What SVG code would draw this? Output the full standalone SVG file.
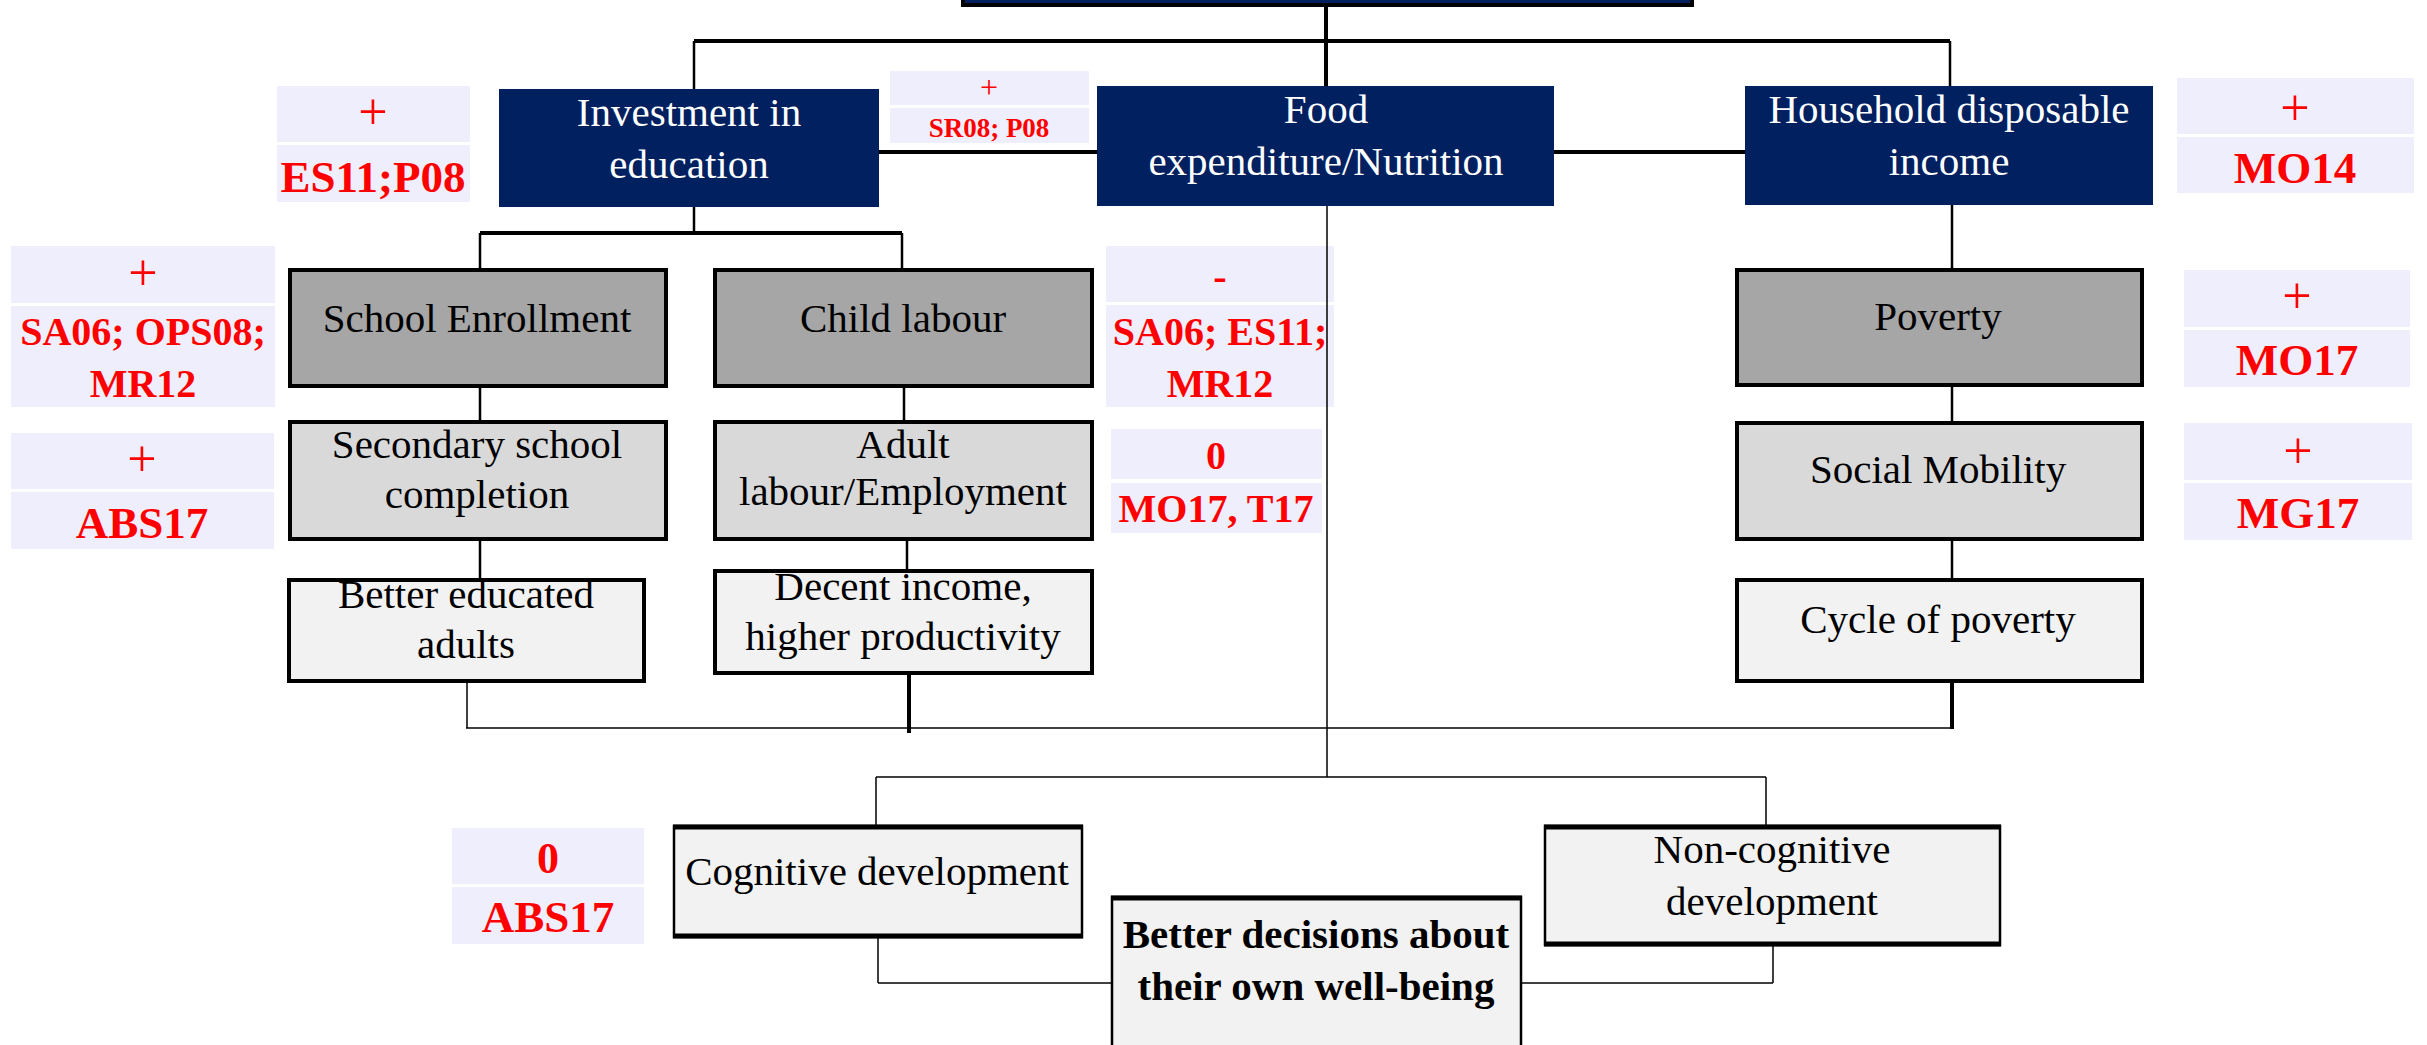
<svg xmlns="http://www.w3.org/2000/svg" width="2427" height="1045" viewBox="0 0 2427 1045">
  <style>
    .navy{fill:#002060}
    .dark{fill:#A6A6A6;stroke:#000;stroke-width:4}
    .mid{fill:#D9D9D9;stroke:#000;stroke-width:4}
    .light{fill:#F2F2F2;stroke:#000;stroke-width:4}
    .soft{fill:#F2F2F2;stroke:#000;stroke-width:2.5}
    .edge{stroke:#000;stroke-width:5;fill:none}
    .cell{fill:#EEEEFC}
    text{font-family:"Liberation Serif","Times New Roman",serif;text-anchor:middle}
    .w{fill:#fff;font-size:41px}
    .k{fill:#000;font-size:41px}
    .kb{fill:#000;font-size:41px;font-weight:bold}
    .sign{fill:#f00;font-size:52px}
    .ref{fill:#f00;font-weight:bold;font-size:40px}
    .refl{fill:#f00;font-weight:bold;font-size:45px}
    .c1{stroke:#000;stroke-width:1.5;fill:none}
    .c2{stroke:#000;stroke-width:2.5;fill:none}
    .c3{stroke:#000;stroke-width:4;fill:none}
  </style>

  <rect width="2427" height="1045" fill="#fff"/>

  <!-- connectors -->
  <g id="connectors">
    <line class="c3" x1="1326" y1="6" x2="1326" y2="86"/>
    <line class="c3" x1="694" y1="41" x2="1950" y2="41"/>
    <line class="c2" x1="694" y1="41" x2="694" y2="89"/>
    <line class="c2" x1="1950" y1="41" x2="1950" y2="86"/>
    <line class="c3" x1="879" y1="152" x2="1097" y2="152"/>
    <line class="c3" x1="1554" y1="152" x2="1745" y2="152"/>
    <!-- education branch -->
    <line class="c2" x1="694" y1="207" x2="694" y2="233"/>
    <line class="c3" x1="480" y1="233" x2="902" y2="233"/>
    <line class="c2" x1="480" y1="233" x2="480" y2="268"/>
    <line class="c2" x1="902" y1="233" x2="902" y2="268"/>
    <line class="c2" x1="480" y1="387" x2="480" y2="420"/>
    <line class="c2" x1="904" y1="387" x2="904" y2="420"/>
    <line class="c2" x1="480" y1="540" x2="480" y2="578"/>
    <line class="c2" x1="907" y1="540" x2="907" y2="569"/>
    <line class="c1" x1="467" y1="682" x2="467" y2="728"/>
    <line class="c3" x1="909" y1="674" x2="909" y2="733"/>
    <!-- income branch -->
    <line class="c2" x1="1952" y1="205" x2="1952" y2="268"/>
    <line class="c2" x1="1952" y1="386" x2="1952" y2="421"/>
    <line class="c2" x1="1952" y1="540" x2="1952" y2="578"/>
    <line class="c3" x1="1952" y1="682" x2="1952" y2="729"/>
    <line class="c1" x1="466" y1="728" x2="1953" y2="728"/>
    <!-- development branch -->
    <line class="c1" x1="876" y1="777" x2="1766" y2="777"/>
    <line class="c1" x1="876" y1="777" x2="876" y2="825"/>
    <line class="c1" x1="1766" y1="777" x2="1766" y2="825"/>
    <line class="c1" x1="878" y1="938" x2="878" y2="983"/>
    <line class="c1" x1="878" y1="983" x2="1111" y2="983"/>
    <line class="c1" x1="1773" y1="946" x2="1773" y2="983"/>
    <line class="c1" x1="1522" y1="983" x2="1773" y2="983"/>
  </g>

  <!-- evidence labels -->
  <g id="label-es11">
    <rect class="cell" x="277" y="86" width="193" height="56"/>
    <rect class="cell" x="277" y="145" width="193" height="57"/>
    <text class="sign" x="373" y="129">+</text>
    <text class="refl" x="373" y="192">ES11;P08</text>
  </g>
  <g id="label-sr08">
    <rect class="cell" x="890" y="71" width="199" height="34"/>
    <rect class="cell" x="890" y="108" width="199" height="35"/>
    <text class="sign" x="989" y="98" style="font-size:32px">+</text>
    <text class="ref" x="989" y="137" style="font-size:27px">SR08; P08</text>
  </g>
  <g id="label-mo14">
    <rect class="cell" x="2177" y="78" width="237" height="56"/>
    <rect class="cell" x="2177" y="137" width="237" height="56"/>
    <text class="sign" x="2295" y="125">+</text>
    <text class="refl" x="2295" y="183">MO14</text>
  </g>
  <g id="label-sa06-ops08">
    <rect class="cell" x="11" y="246" width="264" height="57"/>
    <rect class="cell" x="11" y="306" width="264" height="101"/>
    <text class="sign" x="143" y="290">+</text>
    <text class="ref" x="143" y="345">SA06; OPS08;</text>
    <text class="ref" x="143" y="397">MR12</text>
  </g>
  <g id="label-abs17-left">
    <rect class="cell" x="11" y="433" width="263" height="56"/>
    <rect class="cell" x="11" y="492" width="263" height="57"/>
    <text class="sign" x="142" y="476">+</text>
    <text class="refl" x="142" y="538">ABS17</text>
  </g>
  <g id="label-sa06-es11">
    <rect class="cell" x="1106" y="246" width="228" height="56"/>
    <rect class="cell" x="1106" y="305" width="228" height="102"/>
    <text class="ref" x="1220" y="290">-</text>
    <text class="ref" x="1220" y="345">SA06; ES11;</text>
    <text class="ref" x="1220" y="397">MR12</text>
  </g>
  <g id="label-mo17-t17">
    <rect class="cell" x="1111" y="429" width="211" height="50"/>
    <rect class="cell" x="1111" y="483" width="211" height="50"/>
    <text class="ref" x="1216" y="469">0</text>
    <text class="ref" x="1216" y="522">MO17, T17</text>
  </g>
  <g id="label-mo17">
    <rect class="cell" x="2184" y="270" width="226" height="57"/>
    <rect class="cell" x="2184" y="330" width="226" height="57"/>
    <text class="sign" x="2297" y="313">+</text>
    <text class="refl" x="2297" y="375">MO17</text>
  </g>
  <g id="label-mg17">
    <rect class="cell" x="2184" y="423" width="228" height="57"/>
    <rect class="cell" x="2184" y="483" width="228" height="57"/>
    <text class="sign" x="2298" y="468">+</text>
    <text class="refl" x="2298" y="528">MG17</text>
  </g>
  <g id="label-abs17-bottom">
    <rect class="cell" x="452" y="828" width="192" height="56"/>
    <rect class="cell" x="452" y="887" width="192" height="57"/>
    <text class="ref" x="548" y="873" style="font-size:44px">0</text>
    <text class="refl" x="548" y="932">ABS17</text>
  </g>

  <!-- top-level channels -->
  <g id="node-top">
    <rect class="navy" x="963" y="-10" width="729" height="15" stroke="#000" stroke-width="4"/>
  </g>
  <line class="c3" x1="1326" y1="6" x2="1326" y2="86"/>
  <g id="node-education">
    <rect class="navy" x="499" y="89" width="380" height="118"/>
    <text class="w" x="689" y="126">Investment in</text>
    <text class="w" x="689" y="178">education</text>
  </g>
  <g id="node-food">
    <rect class="navy" x="1097" y="86" width="457" height="120"/>
    <text class="w" x="1326" y="123">Food</text>
    <text class="w" x="1326" y="175">expenditure/Nutrition</text>
  </g>
  <g id="node-income">
    <rect class="navy" x="1745" y="86" width="408" height="119"/>
    <text class="w" x="1949" y="123">Household disposable</text>
    <text class="w" x="1949" y="175">income</text>
  </g>

  <!-- education column -->
  <g id="node-enrollment">
    <rect class="dark" x="290" y="270" width="376" height="116"/>
    <text class="k" x="477" y="332">School Enrollment</text>
  </g>
  <g id="node-child-labour">
    <rect class="dark" x="715" y="270" width="377" height="116"/>
    <text class="k" x="903" y="332">Child labour</text>
  </g>
  <g id="node-secondary">
    <rect class="mid" x="290" y="422" width="376" height="117"/>
    <text class="k" x="477" y="458">Secondary school</text>
    <text class="k" x="477" y="508">completion</text>
  </g>
  <g id="node-adult-labour">
    <rect class="mid" x="715" y="422" width="377" height="117"/>
    <text class="k" x="903" y="458">Adult</text>
    <text class="k" x="903" y="505">labour/Employment</text>
  </g>
  <g id="node-educated-adults">
    <rect class="light" x="289" y="580" width="355" height="101"/>
    <text class="k" x="466" y="608">Better educated</text>
    <text class="k" x="466" y="658">adults</text>
  </g>
  <g id="node-decent-income">
    <rect class="light" x="715" y="571" width="377" height="102"/>
    <text class="k" x="903" y="600">Decent income,</text>
    <text class="k" x="903" y="650">higher productivity</text>
  </g>

  <!-- income column -->
  <g id="node-poverty">
    <rect class="dark" x="1737" y="270" width="405" height="115"/>
    <text class="k" x="1938" y="330">Poverty</text>
  </g>
  <g id="node-social-mobility">
    <rect class="mid" x="1737" y="423" width="405" height="116"/>
    <text class="k" x="1938" y="483">Social Mobility</text>
  </g>
  <g id="node-cycle">
    <rect class="light" x="1737" y="580" width="405" height="101"/>
    <text class="k" x="1938" y="633">Cycle of poverty</text>
  </g>

  <!-- food line runs over its labels -->
  <line class="c1" x1="1327" y1="206" x2="1327" y2="777"/>

  <!-- development outcomes -->
  <g id="node-cognitive">
    <rect class="soft" x="674" y="826" width="408" height="111"/>
    <line class="edge" x1="673" y1="827" x2="1083" y2="827"/>
    <line class="edge" x1="673" y1="936" x2="1083" y2="936"/>
    <text class="k" x="877" y="885">Cognitive development</text>
  </g>
  <g id="node-noncognitive">
    <rect class="soft" x="1545" y="826" width="455" height="119"/>
    <line class="edge" x1="1544" y1="827" x2="2001" y2="827"/>
    <line class="edge" x1="1544" y1="944" x2="2001" y2="944"/>
    <text class="k" x="1772" y="863">Non-cognitive</text>
    <text class="k" x="1772" y="915">development</text>
  </g>
  <g id="node-decisions">
    <rect class="soft" x="1112" y="897" width="409" height="160"/>
    <line class="edge" x1="1111" y1="898" x2="1522" y2="898"/>
    <text class="kb" x="1316" y="948">Better decisions about</text>
    <text class="kb" x="1316" y="1000">their own well-being</text>
  </g>
</svg>
